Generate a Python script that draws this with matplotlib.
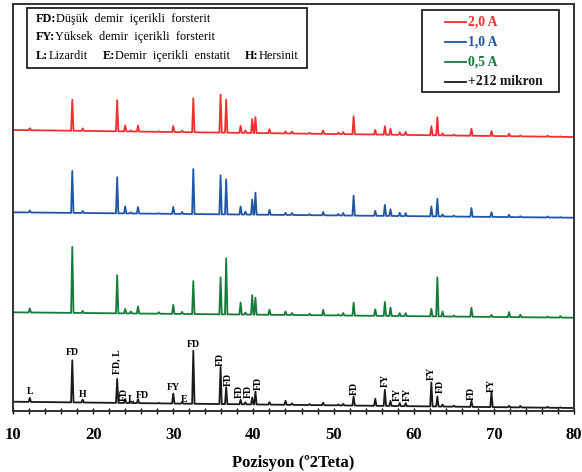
import numpy as np
import matplotlib
matplotlib.use("Agg")
import matplotlib.pyplot as plt
from matplotlib.patches import Rectangle

plt.rcParams['font.family'] = ['Liberation Serif', 'DejaVu Serif']

# peak positions (2 theta) shared by all patterns
two_theta = [12.1, 17.4, 18.7, 23.0, 24.0, 24.7, 25.6, 28.2, 30.0, 31.1,
             32.5, 35.9, 36.6, 38.4, 39.0, 39.85, 40.25, 42.0, 44.0, 44.8,
             47.0, 48.7, 50.6, 51.2, 52.5, 55.2, 56.4, 57.1, 58.25, 59.0,
             62.2, 62.95, 63.6, 65.0, 67.2, 69.7, 71.9, 73.3, 76.7, 78.3]

# peak heights above background (a.u.)
h_212 = [4, 42, 3, 24, 4, 1.5, 4, 0.5, 10, 1.5,
         53, 37, 17, 4.5, 2, 7, 13, 2.5, 4, 1.5,
         1, 2.5, 1, 1.5, 9, 7, 16, 5, 3, 3,
         24, 10, 2, 1, 6, 15, 1.5, 1.5, 1, 0.5]
h_05 = [4, 66, 2, 38, 4.5, 2, 7, 1.5, 9, 2,
        33, 37, 56, 12, 2, 19.5, 17, 5, 3.5, 2,
        1.5, 5.5, 1, 2.5, 13, 6.5, 14, 8.5, 3, 3,
        7.5, 39, 5, 1, 9, 2, 5, 2.5, 1, 1.5]
h_10 = [2, 42, 2, 36, 7, 1, 6.5, 0.5, 7, 2,
        45, 39, 35, 8, 3, 15, 22, 5, 2, 2,
        1, 3.3, 1.5, 2.5, 20, 5, 11, 6.7, 3.3, 3,
        10, 17.7, 2, 1, 8.7, 4.7, 2.3, 1, 1, 0.5]
h_20 = [2, 31, 2.5, 31, 6, 1, 6, 0.5, 6, 1.5,
        34, 38, 33, 7, 2.5, 14, 16, 4, 2, 2,
        1, 3.5, 1.5, 2, 18, 4.5, 8.5, 6, 2.5, 3,
        9, 18, 2, 1, 7, 5, 2.5, 1, 1, 0.5]

# background level at 10 and 80 degrees (stacked offsets)
bg_212 = [9.3, 3.0]
bg_05 = [98.7, 93.3]
bg_10 = [198.7, 193.3]
bg_20 = [281.0, 274.0]

names = ['2,0 A', '1,0 A', '0,5 A', '+212 mikron']
colors = ['#f0302e', '#1f56a8', '#167a3a', '#1a1a1a']

# phase labels on the +212 mikron pattern: text, 2theta, height, rotation
lab_text = ['L', 'FD', 'H', 'FD, L', 'FD', 'L', 'FD', 'FY', 'E', 'FD',
            'FD', 'FD', 'FD', 'FD', 'FD', 'FD', 'FY', 'FY', 'FY', 'FY',
            'FD', 'FD', 'FY']
lab_x = [12.1, 17.4, 18.7, 23.0, 23.9, 24.75, 26.1, 30.05, 31.35, 32.5,
         35.9, 36.85, 38.2, 39.4, 40.6, 52.6, 56.4, 57.95, 59.2, 62.2,
         63.3, 67.2, 69.7]
lab_y = [19.3, 58.3, 17, 49, 17, 12, 15.3, 24, 12, 67,
         52, 32, 19.3, 19.3, 28, 23, 30.3, 17, 17, 38,
         24.3, 18, 26]
lab_rot = [0, 0, 0, 90, 90, 0, 0, 0, 0, 0,
           90, 90, 90, 90, 90, 90, 90, 90, 90, 90,
           90, 90, 90]


def pattern(heights, bg):
    xs = [10.0]
    ys = [0.0]
    for p, h in zip(two_theta, heights):
        xs += [p - 0.15, p, p + 0.15]
        ys += [0.0, h, 0.0]
    xs.append(80.0)
    ys.append(0.0)
    xs = np.array(xs)
    back = bg[0] + (bg[1] - bg[0]) * (xs - 10) / 70
    return xs, back + np.array(ys)


fig = plt.figure(figsize=(5.82, 4.72), dpi=100)
ax = fig.add_axes([0.0223, 0.1292, 0.964, 0.8623])

for hh, bg, c in zip([h_20, h_10, h_05, h_212], [bg_20, bg_10, bg_05, bg_212], colors):
    x, y = pattern(hh, bg)
    ax.plot(x, y, color=c, lw=1.3)

for t, x, y, r in zip(lab_text, lab_x, lab_y, lab_rot):
    ax.text(x, y, t, rotation=r, ha='center', va='center', fontsize=7,
            fontweight='bold')

ax.set_xlim(10, 80)
ax.set_ylim(0, 407)
ax.set_yticks([])
ax.set_xticks(np.arange(10, 81, 10))
ax.set_xticks(np.arange(10, 81, 2), minor=True)
ax.tick_params(axis='x', which='both', direction='inout', length=5, width=1,
               labelsize=12, pad=9)
for lb in ax.get_xticklabels():
    lb.set_fontweight('bold')
for s in ax.spines.values():
    s.set_linewidth(1.4)
    s.set_color('#333333')
ax.set_xlabel('Pozisyon (º2Teta)', fontsize=12, fontweight='bold', labelpad=9)

# phase description box
ax.add_patch(Rectangle((0.025, 0.843), 0.499, 0.147, transform=ax.transAxes,
                       fill=False, lw=1.3, ec='#222222'))
rows = [[('FD:', 'bold'), ('Düşük  demir  içerikli  forsterit', 'normal')],
        [('FY:', 'bold'), ('Yüksek  demir  içerikli  forsterit', 'normal')],
        [('L:', 'bold'), ('Lizardit', 'normal'), ('E:', 'bold'),
         ('Demir  içerikli  enstatit', 'normal'), ('H:', 'bold'), ('Hersinit', 'normal')]]
row_y = [0.963, 0.919, 0.872]
for parts, yy in zip(rows, row_y):
    prev = ax.text(0.041, yy, parts[0][0], transform=ax.transAxes, fontsize=8.8,
                   fontweight=parts[0][1], va='center')
    for txt, fw in parts[1:]:
        gap = 11 if fw == 'bold' else 0
        prev = ax.annotate(txt, xy=(1, 0.5), xycoords=prev, xytext=(gap, 0),
                           textcoords='offset points', fontsize=8.8,
                           fontweight=fw, va='center')

# legend box
ax.add_patch(Rectangle((0.729, 0.784), 0.244, 0.201, transform=ax.transAxes,
                       fill=False, lw=1.3, ec='#222222'))
leg_y = [0.9565, 0.9074, 0.8582, 0.8091]
for n, c, yy in zip(names, colors, leg_y):
    ax.plot([0.770, 0.8075], [yy, yy], color=c, lw=1.3, transform=ax.transAxes)
    ax.text(0.811, yy, n, color=c, fontsize=9.8, fontweight='bold',
            va='center', transform=ax.transAxes)

fig.savefig('out.png', dpi=100)
